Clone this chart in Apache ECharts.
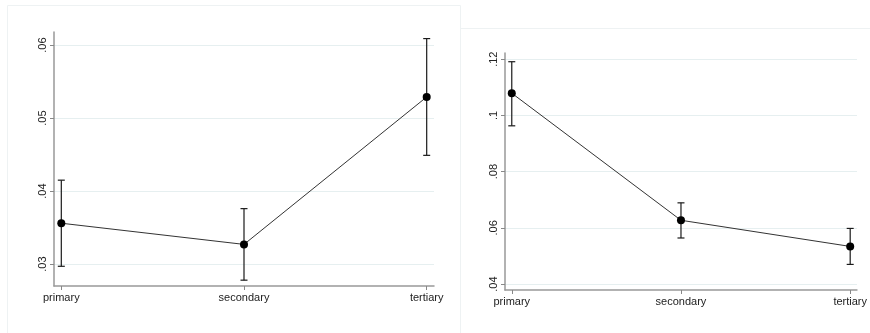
<!DOCTYPE html>
<html><head><meta charset="utf-8">
<script src="https://cdn.jsdelivr.net/npm/echarts@6/dist/echarts.min.js"></script>
<style>html,body{margin:0;padding:0;background:#fff}#c{width:870px;height:333px}</style>
</head><body><div id="c"></div>
<script>
const categories = ['primary', 'secondary', 'tertiary'];
const catIndex = [0, 1, 2];
const leftMean = [0.0356, 0.0327, 0.0529];
const leftLo = [0.0297, 0.0278, 0.0449];
const leftHi = [0.0415, 0.0376, 0.0609];
const rightMean = [0.1079, 0.0627, 0.0534];
const rightLo = [0.0963, 0.0564, 0.0470];
const rightHi = [0.1191, 0.0689, 0.0598];
const leftTicks = [0.03, 0.04, 0.05, 0.06];
const rightTicks = [0.04, 0.06, 0.08, 0.1, 0.12];

const FONT = 'Liberation Sans, Arial, sans-serif';
const fmtY = v => String(+v.toFixed(4)).replace(/^0\./, '.');
const chart = echarts.init(document.getElementById('c'), null, {renderer: 'canvas'});

function xAxis(gi) {
  return {
    type: 'value', gridIndex: gi, min: -0.04, max: 2.04,
    axisLine: {show: true, onZero: false, lineStyle: {color: '#999', width: 1.5}},
    axisTick: {show: true, customValues: catIndex, length: 4, lineStyle: {color: '#888'}},
    axisLabel: {customValues: catIndex, formatter: v => categories[Math.round(v)], color: '#222', fontFamily: FONT, fontSize: 11, margin: 6},
    splitLine: {show: false}
  };
}
function yAxis(gi, min, max, ticks) {
  return {
    type: 'value', gridIndex: gi, min: min, max: max,
    axisLine: {show: true, onZero: false, lineStyle: {color: '#999', width: 1.5}},
    axisTick: {show: true, customValues: ticks, length: 4, lineStyle: {color: '#888'}},
    axisLabel: {customValues: ticks, formatter: fmtY, rotate: 90, color: '#222', fontFamily: FONT, fontSize: 11, margin: 6},
    splitLine: {show: false}
  };
}
function errSeries(gi, lo, hi) {
  return {
    type: 'custom', xAxisIndex: gi, yAxisIndex: gi, z: 3,
    data: catIndex.map((x, i) => [x, lo[i], hi[i]]),
    renderItem: (params, api) => {
      const a = api.coord([api.value(0), api.value(1)]);
      const b = api.coord([api.value(0), api.value(2)]);
      const w = 3.5;
      const st = {stroke: '#1a1a1a', lineWidth: 1.2};
      return {type: 'group', children: [
        {type: 'line', shape: {x1: a[0], y1: a[1], x2: b[0], y2: b[1]}, style: st},
        {type: 'line', shape: {x1: a[0] - w, y1: a[1], x2: a[0] + w, y2: a[1]}, style: st},
        {type: 'line', shape: {x1: b[0] - w, y1: b[1], x2: b[0] + w, y2: b[1]}, style: st}
      ]};
    }
  };
}
function gridSeries(gi, ticks) {
  return {
    type: 'line', xAxisIndex: gi, yAxisIndex: gi, z: 0, zlevel: 0, data: [], silent: true,
    markLine: {silent: true, z: 0, symbol: 'none', label: {show: false}, animation: false,
      lineStyle: {color: '#e6eff0', type: 'solid', width: 1},
      data: ticks.map(t => ({yAxis: t}))}
  };
}
function lineSeries(gi, mean) {
  return {
    type: 'line', xAxisIndex: gi, yAxisIndex: gi, z: 4,
    data: catIndex.map((x, i) => [x, mean[i]]),
    symbol: 'circle', symbolSize: 8, showSymbol: true,
    itemStyle: {color: '#000'},
    lineStyle: {color: '#333', width: 1},
    animation: false
  };
}

chart.setOption({
  animation: false,
  backgroundColor: '#fff',
  textStyle: {fontFamily: FONT},
  grid: [
    {left: 54, top: 32, width: 380, bottom: 47},
    {left: 505, top: 53, width: 352, bottom: 43}
  ],
  xAxis: [xAxis(0), xAxis(1)],
  yAxis: [yAxis(0, 0.027, 0.0618, leftTicks), yAxis(1, 0.0379, 0.1222, rightTicks)],
  series: [
    gridSeries(0, leftTicks), gridSeries(1, rightTicks),
    lineSeries(0, leftMean), errSeries(0, leftLo, leftHi),
    lineSeries(1, rightMean), errSeries(1, rightLo, rightHi)
  ],
  graphic: [
    {type: 'polyline', silent: true, z: -1, shape: {points: [[7.5, 333], [7.5, 5.5], [460.5, 5.5], [460.5, 333]]}, style: {stroke: '#eef2f3', fill: null, lineWidth: 1}},
    {type: 'line', silent: true, z: -1, shape: {x1: 460, y1: 28.5, x2: 870, y2: 28.5}, style: {stroke: '#eef2f3', lineWidth: 1}}
  ]
});
</script></body></html>
